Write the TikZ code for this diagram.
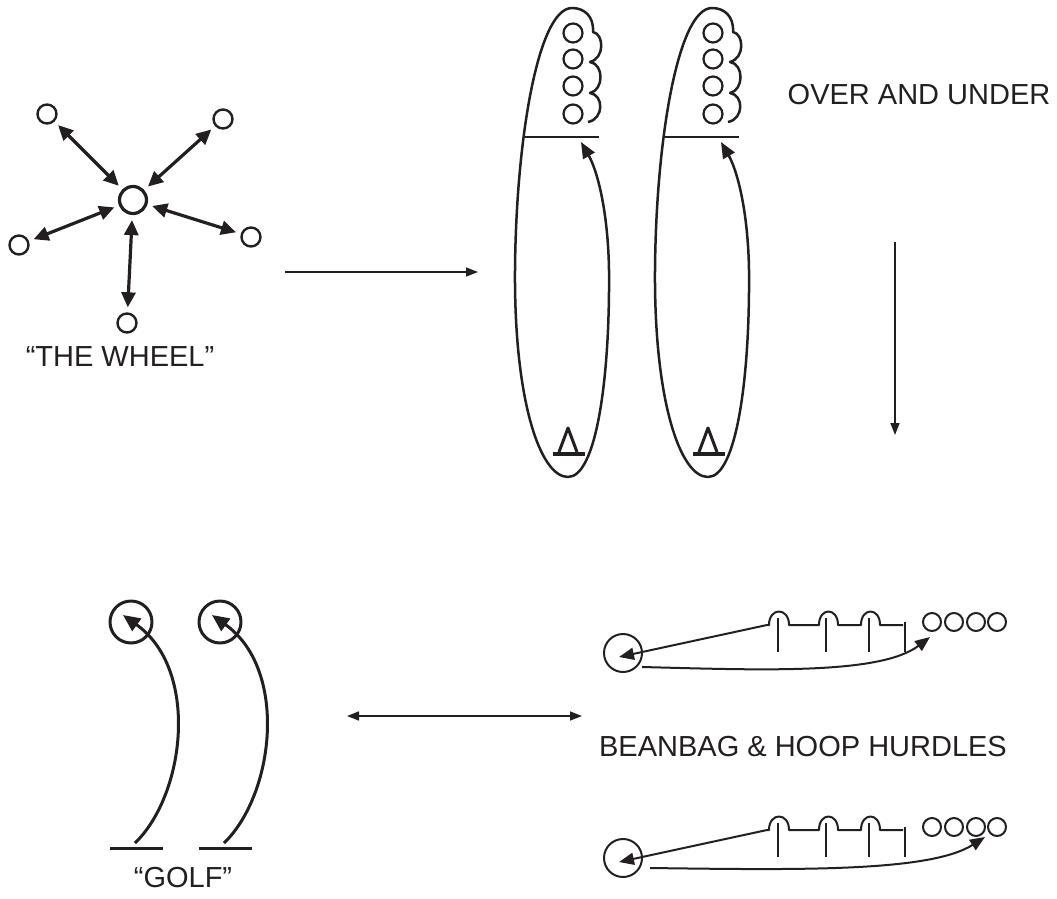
\documentclass[tikz,border=0pt]{standalone}
\usepackage{fontspec}
\setmainfont{Liberation Sans}
\usetikzlibrary{arrows.meta, positioning}
\definecolor{inchiostro}{HTML}{231F20}

\begin{document}
\begin{tikzpicture}[
  x=1pt, y=-1pt,
  font=\fontsize{29}{34}\selectfont,
  every node/.style={text=inchiostro, inner sep=0pt},
  line join=round,
  centro/.style={circle, draw=inchiostro, line width=3.2pt, minimum size=27pt},
  giocatore/.style={circle, draw=inchiostro, line width=2.4pt, minimum size=19pt},
  raggio/.style={draw=inchiostro, line width=3.2pt, shorten <=5pt, shorten >=5pt,
                 {Triangle[length=15pt,width=14pt]}-{Triangle[length=15pt,width=14pt]}},
  punta/.style={-{Triangle[length=12pt,width=9pt]}},
  freccia/.style={draw=inchiostro, line width=1.5pt},
  percorso/.style={draw=inchiostro, line width=2.5pt, -{Triangle[length=16pt,width=13pt]}},
  palla/.style={circle, draw=inchiostro, line width=2.2pt, minimum size=19pt},
  linea/.style={draw=inchiostro, line width=2.5pt},
  cono/.style={draw=inchiostro, line width=3pt},
  buca/.style={circle, draw=inchiostro, line width=3pt, minimum size=42pt},
  tiro/.style={draw=inchiostro, line width=3pt, -{Triangle[length=17pt,width=15pt]}},
  cerchio/.style={circle, draw=inchiostro, line width=2pt, minimum size=38pt},
  anello/.style={circle, draw=inchiostro, line width=2pt, minimum size=18pt},
  ostacolo/.style={draw=inchiostro, line width=2pt},
  lancio/.style={draw=inchiostro, line width=2pt, -{Triangle[length=15pt,width=12pt]}}
]
\useasboundingbox (0,0) rectangle (1057,899);

% la ruota
\node[centro] (R) at (133,200) {};
\node[giocatore] (R1) at (47,114) {};
\node[giocatore] (R2) at (223,119) {};
\node[giocatore] (R3) at (19,245) {};
\node[giocatore] (R4) at (251,237) {};
\node[giocatore] (R5) at (127,323) {};
\foreach \g in {1,...,5}
  \draw[raggio] (R) -- (R\g);
\node (ruota) at (120,357) {“THE WHEEL”};

\coordinate (A1) at (285,272);
\coordinate (A2) at (478,272);
\draw[freccia, punta] (A1) -- (A2);

% sopra e sotto
\foreach \k/\dx in {1/0, 2/140} {
  \begin{scope}[xshift=\dx pt]
    \draw[percorso] (588,122)
      .. controls (604,119) and (604,95) .. (590,93)
      .. controls (604,90) and (604,64) .. (590,62)
      .. controls (605,58) and (604,34) .. (593,32)
      .. controls (594,16) and (584,8) .. (572,8)
      .. controls (538,8) and (516,140) .. (515,270)
      .. controls (514,400) and (540,477) .. (568,477)
      .. controls (596,477) and (610,380) .. (609,270)
      .. controls (608,210) and (597,170) .. (581,142);
    \foreach \j/\y in {1/33, 2/59, 3/86, 4/114}
      \node[palla] (P\k\j) at (573,\y) {};
    \draw[linea] (525,137) -- (599,137);
    \draw[cono] (559,452) -- (568,428) -- (577,452);
    \draw[cono, line width=3.5pt] (553,454) -- (585,454);
  \end{scope}
}
\node (sopra) at (919,95) {OVER AND UNDER};

\coordinate (B1) at (895,242);
\coordinate (B2) at (895,435);
\draw[freccia, punta] (B1) -- (B2);

% golf
\foreach \k/\dx in {1/0, 2/89} {
  \node[buca] (G\k) at (131+\dx,622) {};
  \coordinate (T\k) at (135+\dx,843);
  \coordinate (F\k) at (123+\dx,615);
  \draw[linea, line width=3pt] (110+\dx,848) -- (163+\dx,848);
  \draw[tiro] (T\k) .. controls (185+\dx,795) and (200+\dx,670) .. (F\k);
}
\node (golf) at (183,878) {“GOLF”};

\coordinate (C1) at (347,716);
\coordinate (C2) at (582,716);
\draw[freccia, {Triangle[length=12pt,width=9pt]}-{Triangle[length=12pt,width=9pt]}] (C1) -- (C2);

% ostacoli con sacchetto e cerchio
\foreach \r/\yb in {1/625, 2/830} {
  \node[cerchio] (S\r) at (623,\yb+28) {};
  \coordinate (H\r) at (767,\yb);
  \coordinate (M\r) at (619,\yb+32);
  \draw[ostacolo] (H\r) -- (769,\yb)
    .. controls (769,\yb-18) and (789,\yb-18) .. (789,\yb) -- (819,\yb)
    .. controls (819,\yb-18) and (838,\yb-18) .. (838,\yb) -- (861,\yb)
    .. controls (861,\yb-18) and (880,\yb-18) .. (880,\yb) -- (903,\yb);
  \foreach \px in {778,826,869}
    \draw[ostacolo] (\px,\yb-7) -- (\px,\yb+27);
  \draw[ostacolo] (905,\yb-3) -- (905,\yb+27);
  \foreach \j/\cx in {1/932, 2/954, 3/976, 4/997}
    \node[anello] (O\r\j) at (\cx,\yb-3) {};
  \draw[lancio] (H\r) -- (M\r);
}
\coordinate (L1) at (642,667);
\coordinate (E1) at (930,637);
\draw[lancio] (L1) .. controls (760,670) and (880,675) .. (E1);
\coordinate (L2) at (650,868);
\coordinate (E2) at (985,837);
\draw[lancio] (L2) .. controls (800,870) and (930,872) .. (E2);
\node (ostacoli) at (803,747) {BEANBAG \& HOOP HURDLES};

\end{tikzpicture}
\end{document}
